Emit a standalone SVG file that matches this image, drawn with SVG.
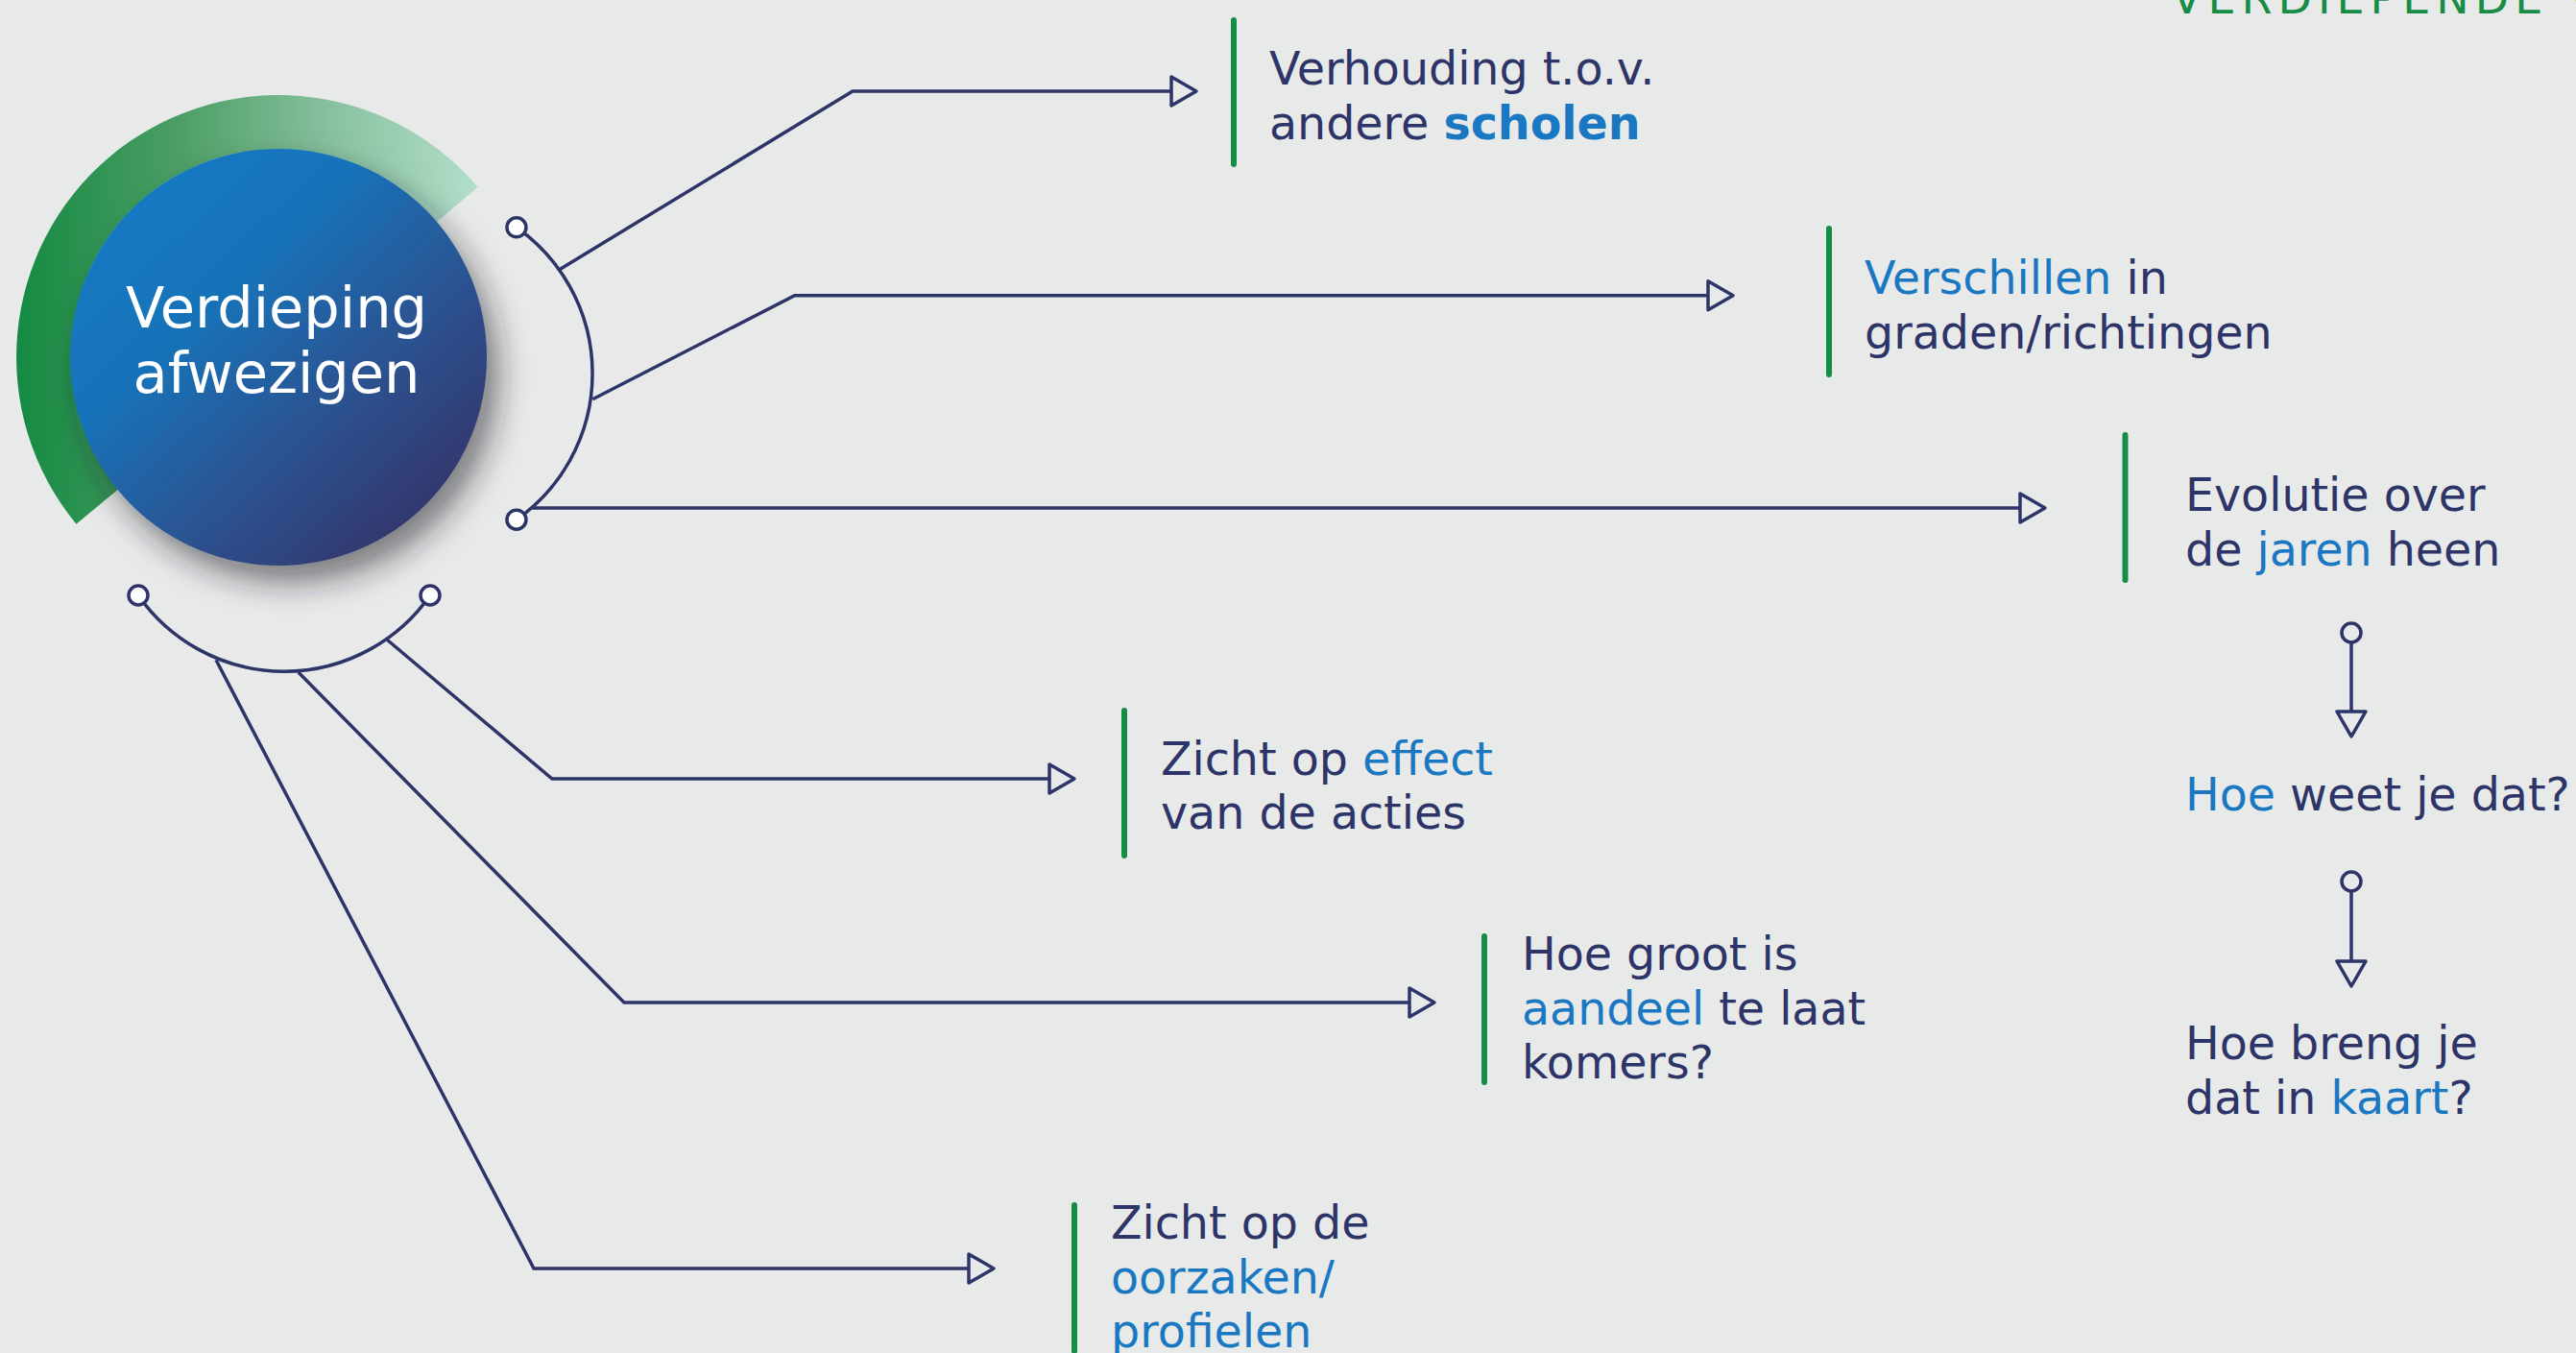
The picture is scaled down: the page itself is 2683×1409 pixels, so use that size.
<svg xmlns="http://www.w3.org/2000/svg" width="2683" height="1409" viewBox="0 0 2683 1409">
  <style>
    .t { font-family: "DejaVu Sans", "Liberation Sans", sans-serif; font-size: 47.5px; fill: #2d3468; }
    .hl { fill: #1a78c2; }
    .b { font-weight: bold; }
    .ln { fill: none; stroke: #2d3468; stroke-width: 3.5; stroke-linejoin: round; stroke-linecap: round; }
    .dot { fill: #ffffff; stroke: #2d3468; stroke-width: 3.5; }
    .ring { fill: none; stroke: #2d3468; stroke-width: 3.5; }
    .bar { stroke: #178c46; stroke-width: 6; stroke-linecap: round; }
    .arrowline { fill: none; stroke: #2d3468; stroke-width: 3.5; marker-end: url(#arr); }
  </style>
  <defs>
    <marker id="arr" markerUnits="userSpaceOnUse" viewBox="-32 -20 36 40" markerWidth="36" markerHeight="40" refX="0" refY="0" orient="auto" overflow="visible">
      <path d="M-26 -15 L0 0 L-26 15 Z" fill="#e8eae9" stroke="#2d3468" stroke-width="3.5" stroke-linejoin="round"/>
    </marker>
    <linearGradient id="gband" gradientUnits="userSpaceOnUse" x1="17" y1="0" x2="500" y2="0">
      <stop offset="0" stop-color="#148a42"/>
      <stop offset="0.35" stop-color="#4c9e65"/>
      <stop offset="0.7" stop-color="#8bc3a2"/>
      <stop offset="1" stop-color="#b2dfcb"/>
    </linearGradient>
    <linearGradient id="gcirc" x1="0.15" y1="0.1" x2="0.9" y2="0.9">
      <stop offset="0" stop-color="#1179c3"/>
      <stop offset="0.3" stop-color="#1872b8"/>
      <stop offset="0.65" stop-color="#2c5290"/>
      <stop offset="1" stop-color="#333368"/>
    </linearGradient>
    <filter id="shadow" x="-30%" y="-30%" width="170%" height="170%">
      <feDropShadow dx="12" dy="18" stdDeviation="16" flood-color="#1b1f2a" flood-opacity="0.55"/>
    </filter>
  </defs>

  <rect x="0" y="0" width="2683" height="1409" fill="#e8eae9"/>

  <text x="2262" y="14" font-family="DejaVu Sans, Liberation Sans, sans-serif" font-size="46" letter-spacing="6" fill="#178c46">VERDIEPENDE V</text>

  <g id="connectors">
    <path class="ln" d="M537.95,236.8 A186,186 0 0 1 537.95,541.2"/>
    <path class="ln" d="M144,620 A185.5,185.5 0 0 0 448,620"/>
    <path class="arrowline" d="M582.7,280.7 L888,95 L1246,95"/>
    <path class="arrowline" d="M617.3,415.7 L827.7,307.7 L1805,307.7"/>
    <path class="arrowline" d="M553.5,529 L2130,529"/>
    <path class="arrowline" d="M401.7,665 L575,811 L1119,811"/>
    <path class="arrowline" d="M310.7,700 L650,1044 L1494,1044"/>
    <path class="arrowline" d="M225,687.3 L556,1321 L1035,1321"/>
    <path class="arrowline" d="M2449,669.5 L2449,767"/>
    <path class="arrowline" d="M2449,928.5 L2449,1027"/>
    <circle class="dot" cx="537.95" cy="236.8" r="10"/>
    <circle class="dot" cx="537.95" cy="541.2" r="10"/>
    <circle class="dot" cx="144" cy="620" r="10"/>
    <circle class="dot" cx="448" cy="620" r="10"/>
    <circle class="ring" cx="2449" cy="659" r="10"/>
    <circle class="ring" cx="2449" cy="918" r="10"/>
  </g>

  <g id="center">
    <path d="M79.4,545.7 A273,273 0 0 1 497.6,194.7 L453.5,232.4 A215,215 0 0 0 124.1,508.8 Z" fill="url(#gband)"/>
    <circle cx="290" cy="372" r="217" fill="url(#gcirc)" filter="url(#shadow)"/>
    <text x="288" y="341" text-anchor="middle" font-family="DejaVu Sans, Liberation Sans, sans-serif" font-size="59" fill="#ffffff">Verdieping</text>
    <text x="288" y="408.5" text-anchor="middle" font-family="DejaVu Sans, Liberation Sans, sans-serif" font-size="59" fill="#ffffff">afwezigen</text>
  </g>

  <g id="node-scholen">
    <line class="bar" x1="1285" y1="21" x2="1285" y2="171"/>
    <text class="t" x="1322" y="88">Verhouding t.o.v.</text>
    <text class="t" x="1322" y="145">andere <tspan class="hl b">scholen</tspan></text>
  </g>

  <g id="node-verschillen">
    <line class="bar" x1="1905" y1="238" x2="1905" y2="390"/>
    <text class="t" x="1942" y="306"><tspan class="hl">Verschillen</tspan> in</text>
    <text class="t" x="1942" y="363">graden/richtingen</text>
  </g>

  <g id="node-evolutie">
    <line class="bar" x1="2213.5" y1="453" x2="2213.5" y2="604"/>
    <text class="t" x="2276" y="532">Evolutie over</text>
    <text class="t" x="2276" y="589">de <tspan class="hl">jaren</tspan> heen</text>
  </g>

  <g id="node-hoe-weet">
    <text class="t" x="2276" y="843.5"><tspan class="hl">Hoe</tspan> weet je dat?</text>
  </g>

  <g id="node-hoe-breng">
    <text class="t" x="2276" y="1102.5">Hoe breng je</text>
    <text class="t" x="2276" y="1160">dat in <tspan class="hl">kaart</tspan>?</text>
  </g>

  <g id="node-effect">
    <line class="bar" x1="1171" y1="740" x2="1171" y2="891"/>
    <text class="t" x="1209" y="807">Zicht op <tspan class="hl">effect</tspan></text>
    <text class="t" x="1209" y="863">van de acties</text>
  </g>

  <g id="node-aandeel">
    <line class="bar" x1="1546" y1="975" x2="1546" y2="1127"/>
    <text class="t" x="1585" y="1010">Hoe groot is</text>
    <text class="t" x="1585" y="1067"><tspan class="hl">aandeel</tspan> te laat</text>
    <text class="t" x="1585" y="1123">komers?</text>
  </g>

  <g id="node-oorzaken">
    <line class="bar" x1="1119" y1="1255" x2="1119" y2="1407"/>
    <text class="t" x="1157" y="1290">Zicht op de</text>
    <text class="t" x="1157" y="1347"><tspan class="hl">oorzaken/</tspan></text>
    <text class="t" x="1157" y="1403"><tspan class="hl">profielen</tspan></text>
  </g>
</svg>
